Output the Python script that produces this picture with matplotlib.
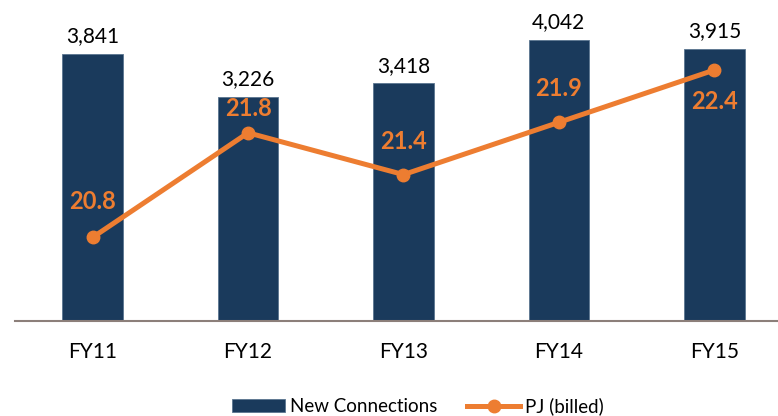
import matplotlib.pyplot as plt
import numpy as np

plt.rcParams['font.family'] = ['Lato', 'DejaVu Sans']

anys = ['FY11', 'FY12', 'FY13', 'FY14', 'FY15']
connexions = [3841, 3226, 3418, 4042, 3915]
pj = [20.8, 21.8, 21.4, 21.9, 22.4]
pj_labels = ['20.8', '21.8', '21.4', '21.9', '22.4']

navy = '#1a3a5c'
taronja = '#ed7d31'

fig = plt.figure(figsize=(7.78, 4.16), dpi=100)
ax = fig.add_axes([15/778, 95/416, 1 - 15/778, 321/416])
x = np.arange(len(anys))

barres = ax.bar(x, connexions, width=0.39, color=navy, edgecolor='#5a7590',
                linewidth=0.6, label='New Connections', zorder=2)
for xi, v in zip(x, connexions):
    ax.text(xi, v + 110, f'{v:,}', ha='center', va='bottom', fontsize=15, color='black')

ax.set_xlim(-0.5, 4.41)
ax.set_ylim(0, 4618)
ax.set_yticks([])
for s in ['top', 'right', 'left']:
    ax.spines[s].set_visible(False)
ax.spines['bottom'].set_color('#8c7f7a')
ax.spines['bottom'].set_linewidth(1.5)
ax.set_xticks(x)
ax.set_xticklabels(anys, fontsize=15)
ax.tick_params(axis='x', length=0, pad=15)

ax2 = ax.twinx()
ax2.set_ylim(20.0, 23.07)
ax2.set_yticks([])
for s in ax2.spines.values():
    s.set_visible(False)
linia, = ax2.plot(x, pj, color=taronja, linewidth=3.6, marker='o', markersize=9,
                  label='PJ (billed)', zorder=3)

# posicio de les etiquetes respecte del punt
offsets = [0.34, 0.23, 0.32, 0.32, -0.30]
for xi, v, lab, off in zip(x, pj, pj_labels, offsets):
    ax2.text(xi, v + off, lab, ha='center', va='center', fontsize=17,
             fontweight='bold', color=taronja)

fig.legend([barres, linia], ['New Connections', 'PJ (billed)'], loc='center',
           bbox_to_anchor=(418/778, 10/416), ncol=2, frameon=False, fontsize=13.5,
           handlelength=2.8, handleheight=0.64, columnspacing=1.6, handletextpad=0.27)

plt.savefig('out.png', dpi=100)
plt.close()
